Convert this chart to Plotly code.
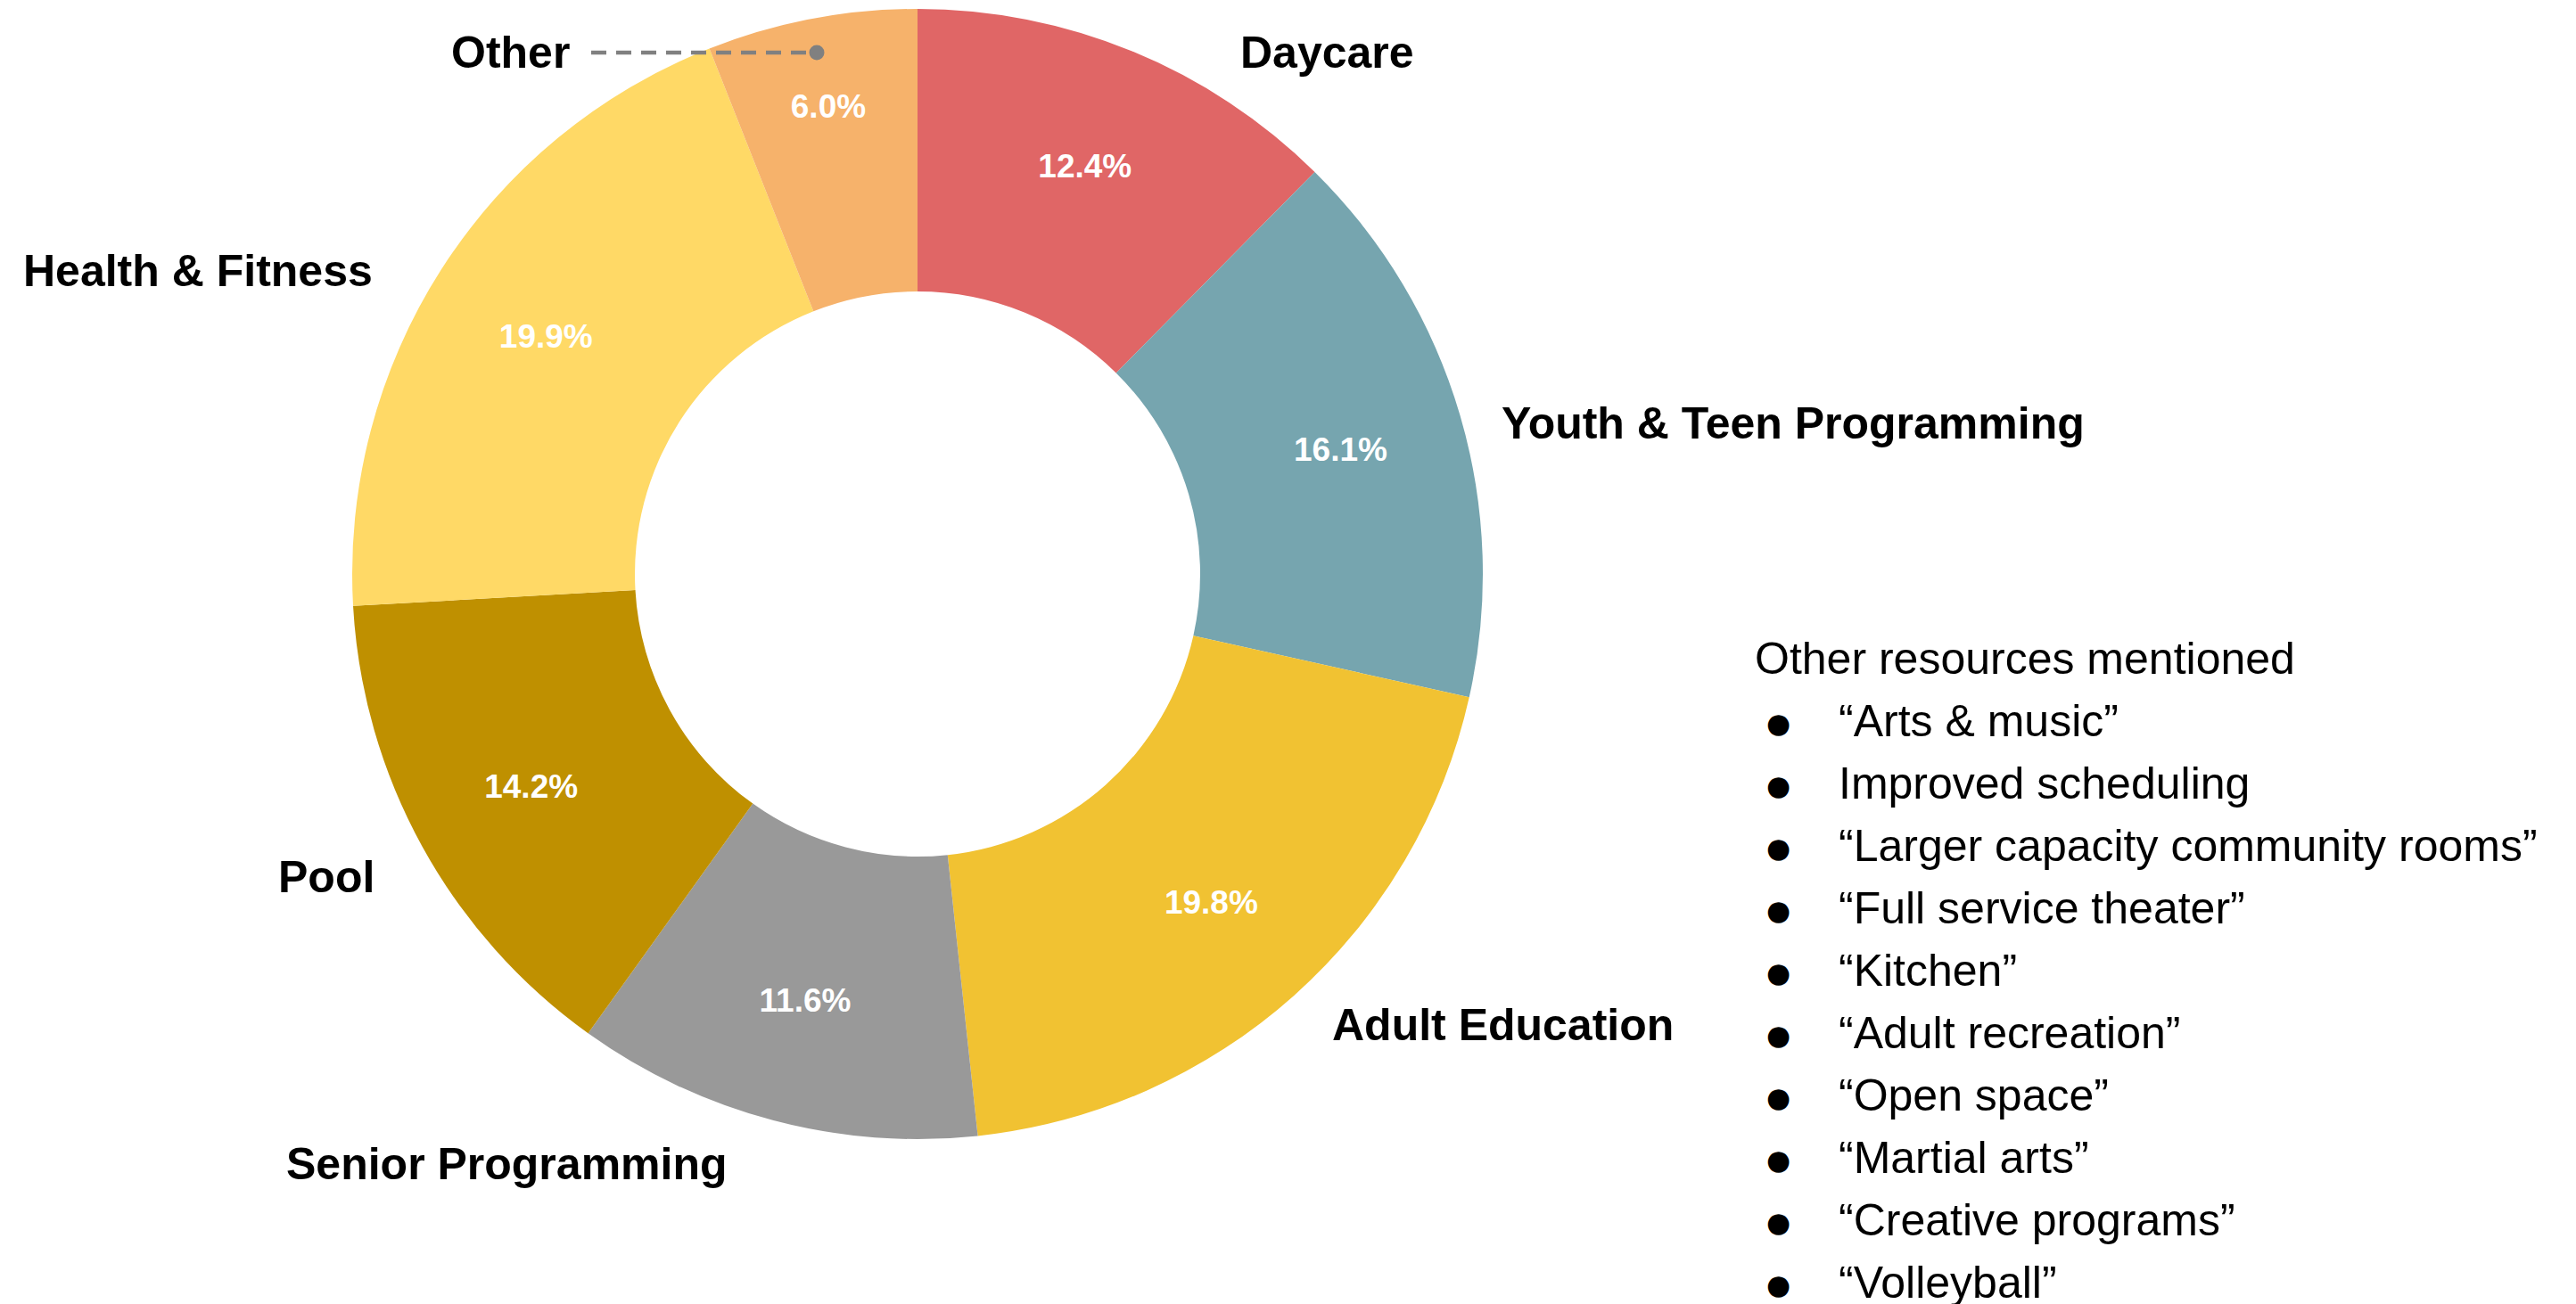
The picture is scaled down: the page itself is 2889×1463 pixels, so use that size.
import plotly.graph_objects as go

WIDTH = 2889
HEIGHT = 1463
PAGE_MARGIN = 8  # the html body adds this around the plot div

categories = ['Daycare', 'Youth & Teen Programming', 'Adult Education', 'Senior Programming',
              'Pool', 'Health & Fitness', 'Other']
shares = [12.4, 16.1, 19.8, 11.6, 14.2, 19.9, 6.0]
colors = ['#E06666', '#76A5AF', '#F1C232', '#999999', '#BF9000', '#FFD966', '#F6B26B']

otherTitle = 'Other resources mentioned'
otherItems = ['“Arts & music”', 'Improved scheduling', '“Larger capacity community rooms”',
              '“Full service theater”', '“Kitchen”', '“Adult recreation”', '“Open space”',
              '“Martial arts”', '“Creative programs”', '“Volleyball”']

# label anchor points in page pixels (x, y, xanchor)
labelPlaces = {
    'Daycare': (1389, 59, 'left'),
    'Youth & Teen Programming': (1682, 475, 'left'),
    'Adult Education': (1492, 1150, 'left'),
    'Senior Programming': (319, 1306, 'left'),
    'Pool': (422, 984, 'right'),
    'Health & Fitness': (420, 304, 'right'),
    'Other': (641, 59, 'right'),
}


def px(x):
    return (x - PAGE_MARGIN) / WIDTH


def py(y):
    return 1 - (y - PAGE_MARGIN) / HEIGHT


def addLabels(fig):
    for name in categories:
        x, y, anchor = labelPlaces[name]
        fig.add_annotation(x=px(x), y=py(y), xref='paper', yref='paper', text='<b>' + name + '</b>',
                           showarrow=False, xanchor=anchor, yanchor='middle',
                           font=dict(family='Liberation Sans, Arial', size=50, color='black'))
    # leader line for the small slice
    fig.add_shape(type='line', xref='paper', yref='paper', x0=px(663), x1=px(912), y0=py(59), y1=py(59),
                  line=dict(color='#808080', width=4.5, dash='17px,11px'))
    fig.add_shape(type='circle', xref='paper', yref='paper', xsizemode='pixel', ysizemode='pixel',
                  xanchor=px(916), yanchor=py(59), x0=-8.5, x1=8.5, y0=-8.5, y1=8.5,
                  fillcolor='#808080', line=dict(width=0))


def addOtherList(fig):
    font = dict(family='Liberation Sans, Arial', size=50, color='black')
    fig.add_annotation(x=px(1966), y=py(739), xref='paper', yref='paper', text=otherTitle,
                       showarrow=False, xanchor='left', yanchor='middle', font=font)
    for i, item in enumerate(otherItems):
        y = 809 + i * 70
        fig.add_annotation(x=px(1995), y=py(y + 2), xref='paper', yref='paper', text='●',
                           showarrow=False, xanchor='center', yanchor='middle',
                           font=dict(family='DejaVu Sans', size=31, color='black'))
        fig.add_annotation(x=px(2060), y=py(y), xref='paper', yref='paper', text=item,
                           showarrow=False, xanchor='left', yanchor='middle', font=font)


def createPlot():
    domain = dict(x=[px(395), px(1663)], y=[py(1278), py(10)])
    fig = go.Figure()
    fig.add_trace(go.Pie(labels=categories, values=shares, sort=False, direction='clockwise',
                         rotation=0, hole=0.5, marker=dict(colors=colors, line=dict(width=0)),
                         textinfo='none', domain=domain, showlegend=False, hoverinfo='label+percent'))
    # transparent ring on top, only to carry the percentages a bit further out
    fig.add_trace(go.Pie(labels=categories, values=shares, sort=False, direction='clockwise',
                         rotation=0, hole=0.56,
                         marker=dict(colors=['rgba(0,0,0,0)'] * len(categories), line=dict(width=0)),
                         texttemplate='<b>%{percent:.1%}</b>', textposition='inside',
                         insidetextorientation='horizontal',
                         textfont=dict(family='Liberation Sans, Arial', size=37, color='white'),
                         domain=domain, showlegend=False, hoverinfo='skip'))
    addLabels(fig)
    addOtherList(fig)
    fig.update_layout(width=WIDTH, height=HEIGHT, margin=dict(l=0, r=0, t=0, b=0),
                      paper_bgcolor='white', plot_bgcolor='white', showlegend=False)
    fig.write_html('out.html')


if __name__ == '__main__':
    createPlot()
